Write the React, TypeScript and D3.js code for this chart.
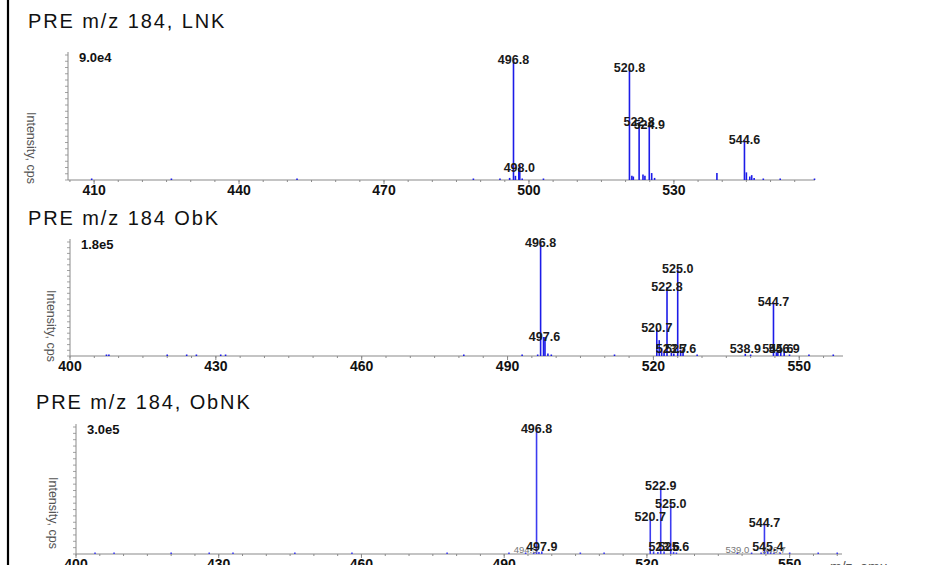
import React from 'react';
import * as d3 from 'd3';

// LNK spectrum (m/z, intensity in cps)
const lnkMz = [409.5, 426, 452, 488.5, 494.0, 496.0, 496.8, 497.2, 497.9, 498.1, 498.6, 503, 520.8, 521.3, 521.6, 522.8, 523.6, 524.0, 524.9, 525.4, 526.0, 538.9, 544.6, 545.0, 545.7, 546.1, 546.6, 548.5, 552, 559.1];
const lnkInt = [800, 400, 300, 500, 600, 1500, 86400, 3000, 9000, 11000, 1000, 500, 80600, 3000, 2500, 41800, 4000, 3000, 39600, 5000, 1500, 5000, 28800, 5500, 2500, 3500, 1500, 500, 400, 500];
const lnkLabels = [496.8, 498.0, 520.8, 522.8, 524.9, 544.6];
const lnkSmallLabels: number[] = [];
const lnkTicks = [410, 440, 470, 500, 530];

// ObK spectrum
const obkMz = [407.5, 408, 420, 424, 426, 431, 432, 481, 493, 496.2, 496.8, 497.4, 497.7, 498.3, 499, 512, 520.7, 521.2, 521.7, 522.2, 522.8, 523.7, 524.2, 525.0, 525.6, 526.1, 529, 538.9, 540, 544.7, 545.3, 545.6, 546.2, 546.9, 548, 552, 557];
const obkInt = [1500, 1500, 1200, 1200, 1500, 1200, 1200, 1500, 1500, 2000, 178000, 30000, 30000, 4000, 1500, 1200, 44000, 25000, 12000, 5000, 109000, 5000, 4000, 137000, 10000, 6000, 1500, 3500, 1500, 85000, 6000, 8000, 5000, 9000, 2000, 1500, 1200];
const obkLabels = [496.8, 497.6, 520.7, 522.8, 525.0, 523.7, 525.6, 538.9, 544.7, 545.6, 546.9];
const obkSmallLabels: number[] = [];
const obkTicks = [400, 430, 460, 490, 520, 550];

// ObNK spectrum
const obnkMz = [404, 408, 420, 428, 433, 446, 458, 478, 491, 494.5, 496.2, 496.8, 497.3, 497.9, 506, 511, 520.7, 521.4, 522.3, 522.9, 523.6, 525.0, 525.6, 526.2, 539.0, 542, 544.0, 544.7, 545.4, 546.0, 546.7, 548, 550, 556, 560];
const obnkInt = [2400, 2400, 2400, 2400, 2400, 2400, 2400, 2400, 2400, 3000, 3000, 296000, 5000, 6000, 2400, 2400, 87000, 6000, 5000, 161000, 6000, 118000, 5000, 3000, 2400, 2400, 3000, 73000, 7000, 4000, 3000, 2400, 2400, 2400, 2400];
const obnkLabels = [496.8, 497.9, 520.7, 522.9, 523.6, 525.0, 525.6, 544.7, 545.4];
const obnkSmallLabels = [494.5, 539.0, 546.7];
const obnkTicks = [400, 430, 460, 490, 520, 550];

const titles = ['PRE m/z 184, LNK', 'PRE m/z 184 ObK', 'PRE m/z 184, ObNK'];
const maxLabels = ['9.0e4', '1.8e5', '3.0e5'];
const yMax = [90000, 180000, 300000];
const xDomains = [[404.6, 559.2], [400, 559], [400, 561]];

const W = 952;
const H = 565;
const FONT = 'Arial, "Liberation Sans", Helvetica, sans-serif';

type PanelProps = {
  mz: number[]; ints: number[]; labels: number[]; small: number[]; ticks: number[];
  title: string; maxLabel: string; ymax: number; domain: number[];
  titleX: number; titleY: number; x0: number; x1: number; yTop: number; yBase: number;
  ytX: number; ytY: number; color: string; xTitle?: boolean;
};

function Panel(p: PanelProps) {
  const x = d3.scaleLinear().domain(p.domain).range([p.x0, p.x1]);
  const y = d3.scaleLinear().domain([0, p.ymax]).range([p.yBase, p.yTop]);
  const minor = d3.range(Math.ceil(p.domain[0] / 5) * 5, p.domain[1], 5);
  const yMinor = d3.range(0, 21).map(i => y(p.ymax * i / 20));
  const nearest = (m: number) => {
    const i = d3.minIndex(p.mz, v => Math.abs(v - m));
    return p.ints[i];
  };
  return (
    <g>
      <text x={p.titleX} y={p.titleY} fontSize={20} letterSpacing={1.9} fontFamily={FONT} fill="#111">{p.title}</text>
      <text transform={`translate(${p.ytX},${p.ytY}) rotate(90)`} textAnchor="middle" dominantBaseline="central"
        fontSize={12.5} fontFamily={FONT} fill="#555">Intensity, cps</text>
      {/* y axis */}
      <line x1={p.x0} x2={p.x0} y1={p.yTop - 3} y2={p.yBase} stroke="#8a8a8a" />
      {yMinor.map((v, i) => (
        <line key={'ym' + i} x1={p.x0 - 3} x2={p.x0} y1={v} y2={v} stroke="#8a8a8a" strokeWidth={0.8} />
      ))}
      <text x={p.x0 + 11} y={p.yTop + 7} fontSize={13} fontWeight="bold" fontFamily={FONT} fill="#111">{p.maxLabel}</text>
      {/* x axis */}
      <line x1={p.x0} x2={p.x1} y1={p.yBase} y2={p.yBase} stroke="#8a8a8a" strokeWidth={1.2} />
      {minor.map(m => (
        <line key={'xm' + m} x1={x(m)} x2={x(m)} y1={p.yBase} y2={p.yBase + 2} stroke="#8a8a8a" />
      ))}
      {p.ticks.map(t => (
        <g key={'t' + t}>
          <line x1={x(t)} x2={x(t)} y1={p.yBase} y2={p.yBase + 4} stroke="#8a8a8a" />
          <text x={x(t)} y={p.yBase + 15} textAnchor="middle" fontSize={14} fontWeight="bold" fontFamily={FONT} fill="#111">{t}</text>
        </g>
      ))}
      {/* peaks */}
      {p.mz.map((m, i) => (
        <line key={'p' + i} x1={x(m)} x2={x(m)} y1={p.yBase} y2={Math.min(y(p.ints[i]), p.yBase - 1.5)}
          stroke={p.color} strokeWidth={1.6} />
      ))}
      {p.small.map(m => (
        <text key={'s' + m} x={x(m)} y={Math.min(y(nearest(m)), p.yBase - 2) + 1} textAnchor="middle"
          fontSize={9.5} fontFamily={FONT} fill="#777">{m.toFixed(1)}</text>
      ))}
      {p.labels.map(m => (
        <text key={'l' + m} x={x(m)} y={Math.min(y(nearest(m)) + 4, p.yBase - 3)} textAnchor="middle"
          fontSize={12.5} fontWeight="bold" fontFamily={FONT} fill="#1a1a1a">{m.toFixed(1)}</text>
      ))}
      {p.xTitle && (
        <text x={830} y={p.yBase + 18} fontSize={14} fontFamily={FONT} fill="#555">m/z, amu</text>
      )}
    </g>
  );
}

export default function App() {
  return (
    <svg width={W} height={H} style={{ position: 'absolute', left: 0, top: 0, background: '#fff' }}>
      <rect x={0} y={0} width={W} height={H} fill="#fff" />
      <line x1={8} x2={8} y1={0} y2={H} stroke="#000" strokeWidth={2.2} />
      <Panel mz={lnkMz} ints={lnkInt} labels={lnkLabels} small={lnkSmallLabels} ticks={lnkTicks}
        title={titles[0]} maxLabel={maxLabels[0]} ymax={yMax[0]} domain={xDomains[0]}
        titleX={28} titleY={28} x0={68} x1={815} yTop={55} yBase={180} ytX={31} ytY={148} color="#1c1ce8" />
      <Panel mz={obkMz} ints={obkInt} labels={obkLabels} small={obkSmallLabels} ticks={obkTicks}
        title={titles[1]} maxLabel={maxLabels[1]} ymax={yMax[1]} domain={xDomains[1]}
        titleX={28} titleY={225} x0={70} x1={843} yTop={242} yBase={356} ytX={51} ytY={326} color="#1c1ce8" />
      <Panel mz={obnkMz} ints={obnkInt} labels={obnkLabels} small={obnkSmallLabels} ticks={obnkTicks}
        title={titles[2]} maxLabel={maxLabels[2]} ymax={yMax[2]} domain={xDomains[2]}
        titleX={36} titleY={409} x0={76} x1={842} yTop={427} yBase={554} ytX={53} ytY={513} color="#3c3cf0" xTitle />
    </svg>
  );
}
